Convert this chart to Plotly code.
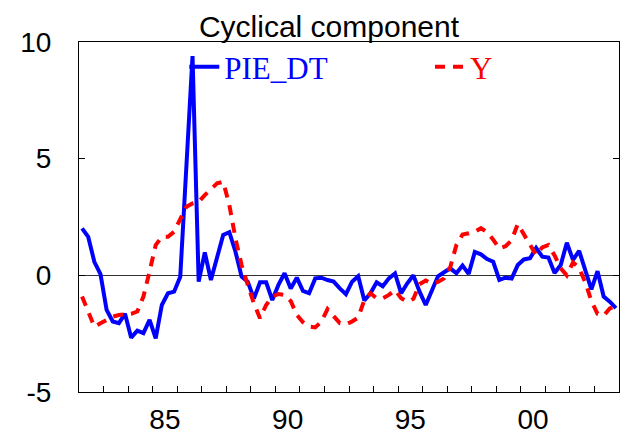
import plotly.graph_objects as go

# Quarterly observations 1982Q1 .. 2003Q4
start_year = 1982
end_year = 2003
quarters = [f"{y}Q{q}" for y in range(start_year, end_year + 1) for q in range(1, 5)]

pie_dt = [
    2.01, 1.65, 0.58, 0.05, -1.48, -1.98, -2.05, -1.65,
    -2.67, -2.37, -2.48, -1.91, -2.70, -1.27, -0.77, -0.70,
    -0.06, 4.70, 9.40, -0.27, 0.98, -0.20, 0.73, 1.73,
    1.85, 1.01, -0.06, -0.27, -1.00, -0.30, -0.30, -1.06,
    -0.41, 0.09, -0.56, -0.10, -0.67, -0.77, -0.13, -0.10,
    -0.20, -0.27, -0.56, -0.81, -0.27, -0.04, -1.08, -0.77,
    -0.30, -0.47, -0.13, 0.08, -0.77, -0.34, 0.00, -0.70,
    -1.27, -0.63, -0.04, 0.13, 0.30, 0.09, 0.42, 0.06,
    1.00, 0.90, 0.70, 0.58, -0.20, -0.10, -0.14, 0.44,
    0.68, 0.73, 1.17, 0.80, 0.76, 0.10, 0.44, 1.40,
    0.66, 1.05, 0.23, -0.60, 0.18, -0.91, -1.13, -1.41,
]

y_gap = [
    -0.91, -1.60, -2.20, -2.05, -1.91, -1.77, -1.70, -1.67,
    -1.65, -1.55, -0.91, 0.16, 1.30, 1.65, 1.65, 1.87,
    2.44, 2.94, 3.08, 3.15, 3.44, 3.72, 3.94, 4.01,
    3.01, 1.58, 0.44, -0.41, -1.20, -1.84, -1.27, -0.91,
    -0.80, -0.84, -1.10, -1.70, -2.01, -2.20, -2.23, -1.98,
    -1.45, -1.75, -2.05, -2.10, -1.98, -1.81, -1.06, -0.77,
    -0.98, -0.98, -0.84, -0.63, -0.98, -1.13, -1.00, -0.38,
    -0.22, -0.35, -0.28, -0.13, 0.35, 1.30, 1.75, 1.80,
    1.87, 2.02, 1.85, 1.53, 1.15, 1.25, 1.50, 2.20,
    1.75, 1.25, 0.87, 1.20, 1.30, 0.85, 0.30, 0.00,
    0.55, 0.32, -0.30, -1.10, -1.65, -1.73, -1.42, -1.30,
]

tick_years = [1985, 1990, 1995, 2000]
tick_labels = ["85", "90", "95", "00"]


def quarter_pos(label):
    yr, q = label.split("Q")
    return int(yr) + (int(q) - 1) / 4 + 0.125


x = [quarter_pos(q) for q in quarters]

fig = go.Figure()
fig.add_trace(go.Scatter(
    x=x, y=pie_dt, mode="lines", name="<span style='color:#0000FF'>PIE_DT</span>",
    line=dict(color="#0000FF", width=4), legend="legend",
))
fig.add_trace(go.Scatter(
    x=x, y=y_gap, mode="lines", name="<span style='color:#FF0000'>Y</span>",
    line=dict(color="#FF0000", width=4, dash="10px,8px"), legend="legend2",
))

legend_font = dict(family="Liberation Serif, Times New Roman, serif", size=31)

# The page body adds an 8px offset; layout positions compensate for it.
fig.update_layout(
    width=629, height=439,
    margin=dict(l=57, r=18.3, t=33.7, b=54.7),
    paper_bgcolor="white", plot_bgcolor="white",
    font=dict(family="Liberation Sans, Arial, sans-serif", size=28, color="black"),
    title=dict(
        text="Cyclical component", x=321 / 629, xanchor="center", xref="container",
        y=1 - 18 / 439, yanchor="middle", yref="container",
        font=dict(family="Liberation Sans, Arial, sans-serif", size=30, color="black"),
    ),
    showlegend=True,
    legend=dict(
        orientation="h", x=0.195, xanchor="left", y=0.928, yanchor="middle",
        bgcolor="rgba(0,0,0,0)", borderwidth=0, font=legend_font,
    ),
    legend2=dict(
        orientation="h", x=0.650, xanchor="left", y=0.928, yanchor="middle",
        bgcolor="rgba(0,0,0,0)", borderwidth=0, font=legend_font,
    ),
)

fig.update_xaxes(
    range=[start_year, end_year + 1],
    tickmode="array",
    tickvals=[t + 0.5 for t in tick_years],
    ticktext=tick_labels,
    ticks="", showgrid=False, zeroline=False,
    showline=True, linecolor="black", linewidth=1, mirror=True,
    minor=dict(tickmode="array", tickvals=list(range(start_year + 1, end_year + 1)),
               ticks="inside", ticklen=6, tickcolor="black", tickwidth=1, showgrid=False),
    ticklabelstandoff=2,
)
fig.update_yaxes(
    range=[-5, 10],
    tickmode="array", tickvals=[-5, 0, 5, 10], ticktext=["-5", "0", "5", "10"],
    ticks="inside", ticklen=6, tickcolor="black",
    showgrid=False,
    zeroline=True, zerolinecolor="#333333", zerolinewidth=1,
    showline=True, linecolor="black", linewidth=1, mirror="ticks",
    ticklabelstandoff=21,
)

fig.write_html("out.html")
